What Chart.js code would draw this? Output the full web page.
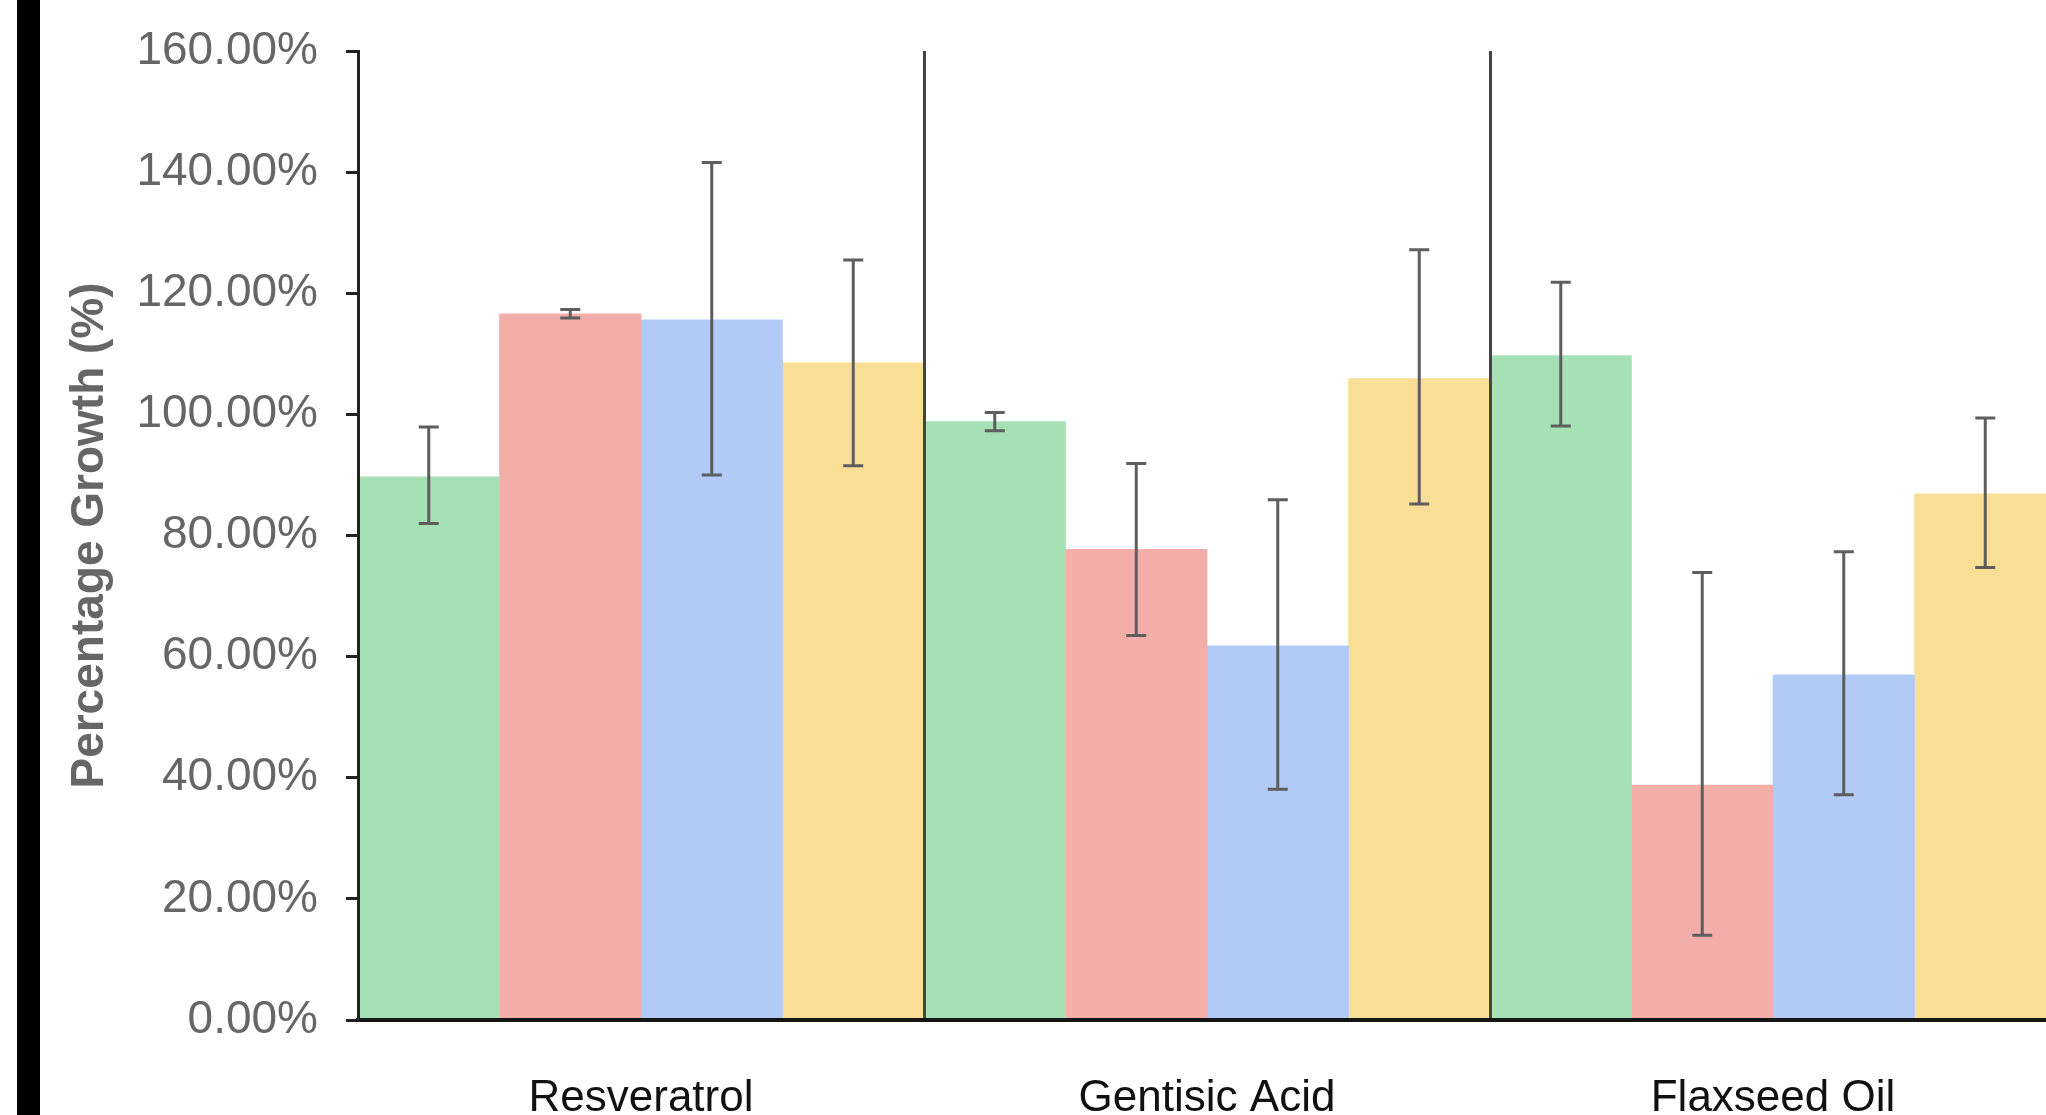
<!DOCTYPE html>
<html><head><meta charset="utf-8">
<script src="https://cdn.jsdelivr.net/npm/chart.js@4.4.0/dist/chart.umd.min.js"></script>
<style>
html,body{margin:0;padding:0;background:#fff;overflow:hidden;width:2046px;height:1115px;}
#wrap{position:absolute;left:0;top:0;width:2056px;height:1140px;}
#edge{position:absolute;left:17px;top:0;width:23px;height:1115px;background:#000;z-index:2;}
</style></head><body>
<div id="wrap"><canvas id="c"></canvas></div>
<div id="edge"></div>
<script>
const categories = ['Resveratrol', 'Gentisic Acid', 'Flaxseed Oil'];
const seriesNames = ['Series 1', 'Series 2', 'Series 3', 'Series 4'];
const greenValues   = [89.7, 98.8, 109.7];
const greenErrUp    = [8.2, 1.5, 12.1];
const greenErrDown  = [7.7, 1.5, 11.6];
const redValues     = [116.6, 77.7, 38.8];
const redErrUp      = [0.7, 14.2, 35.1];
const redErrDown    = [0.7, 14.2, 24.8];
const blueValues    = [115.6, 61.8, 57.0];
const blueErrUp     = [26.0, 24.1, 20.3];
const blueErrDown   = [25.6, 23.7, 19.8];
const yellowValues  = [108.5, 105.9, 86.9];
const yellowErrUp   = [17.0, 21.3, 12.5];
const yellowErrDown = [17.0, 20.7, 12.2];
const yTickValues   = [0, 20, 40, 60, 80, 100, 120, 140, 160];

const colors = ['#a6e1b6', '#f4aeaa', '#b1cbf6', '#f9df96'];
const valueSets = [greenValues, redValues, blueValues, yellowValues];
const upSets = [greenErrUp, redErrUp, blueErrUp, yellowErrUp];
const downSets = [greenErrDown, redErrDown, blueErrDown, yellowErrDown];

const errorBarPlugin = {
  id: 'errorBars',
  afterDatasetsDraw(chart) {
    const ctx = chart.ctx, ys = chart.scales.y;
    ctx.save();
    ctx.strokeStyle = '#5e5e5e';
    ctx.lineWidth = 3;
    chart.data.datasets.forEach((ds, i) => {
      const meta = chart.getDatasetMeta(i);
      meta.data.forEach((el, j) => {
        const v = ds.data[j];
        const x = el.x;
        const yT = ys.getPixelForValue(v + upSets[i][j]);
        const yB = ys.getPixelForValue(v - downSets[i][j]);
        ctx.beginPath();
        ctx.moveTo(x, yT); ctx.lineTo(x, yB);
        ctx.moveTo(x - 10, yT); ctx.lineTo(x + 10, yT);
        ctx.moveTo(x - 10, yB); ctx.lineTo(x + 10, yB);
        ctx.stroke();
      });
    });
    ctx.restore();
  }
};

new Chart(document.getElementById('c'), {
  type: 'bar',
  data: {
    labels: categories,
    datasets: valueSets.map((vals, i) => ({
      label: seriesNames[i],
      data: vals,
      backgroundColor: colors[i],
      borderWidth: 0,
      barPercentage: 1,
      categoryPercentage: 1
    }))
  },
  options: {
    responsive: true,
    maintainAspectRatio: false,
    animation: false,
    layout: { padding: { top: 50, left: 0, right: 0, bottom: 0 } },
    plugins: { legend: { display: false }, tooltip: { enabled: false } },
    scales: {
      x: {
        afterFit(s) { s.height = 120; },
        grid: { offset: true, color: '#444', lineWidth: 3, drawTicks: false, drawOnChartArea: true, z: 1 },
        border: { color: '#151515', width: 4, z: 1 },
        ticks: { color: '#111', padding: 52, font: { family: 'Liberation Sans, Arial, sans-serif', size: 44 } }
      },
      y: {
        min: 0, max: 160,
        afterFit(s) { s.width = 358; },
        afterBuildTicks(s) { s.ticks = yTickValues.map(v => ({ value: v })); },
        grid: { drawOnChartArea: false, drawTicks: true, tickLength: 12, color: '#222', lineWidth: 3 },
        border: { color: '#222', width: 3, z: 1 },
        ticks: {
          color: '#666', padding: 28,
          font: { family: 'Liberation Sans, Arial, sans-serif', size: 46, lineHeight: 1.0 },
          callback: v => v.toFixed(2) + '%'
        },
        title: {
          display: true, text: 'Percentage Growth (%)', color: '#666',
          font: { family: 'Liberation Sans, Arial, sans-serif', size: 46, weight: 'bold' },
          padding: { top: 63, bottom: 0 }
        }
      }
    }
  },
  plugins: [errorBarPlugin]
});
</script>
</body></html>
